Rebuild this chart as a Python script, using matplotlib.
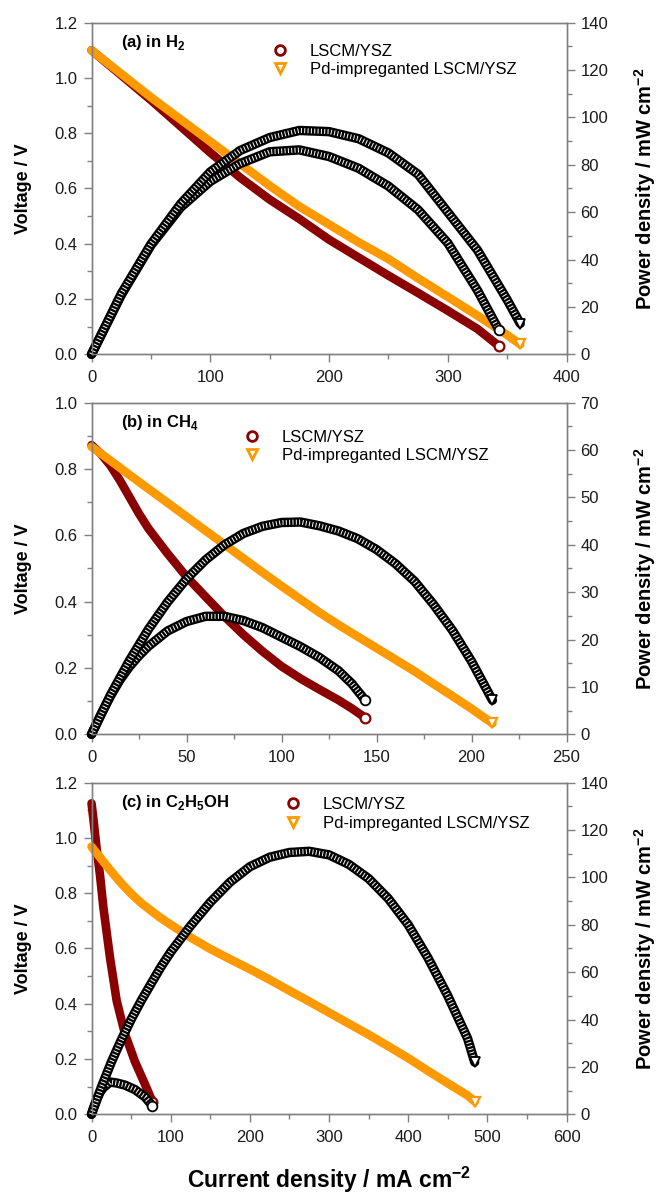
import matplotlib
matplotlib.use("Agg")
import matplotlib.pyplot as plt
from matplotlib.lines import Line2D
from matplotlib.ticker import MultipleLocator, FormatStrFormatter

plt.rcParams['font.family'] = ['Liberation Sans', 'DejaVu Sans']
plt.rcParams['mathtext.fontset'] = 'custom'
plt.rcParams['mathtext.rm'] = 'Liberation Sans'
plt.rcParams['mathtext.bf'] = 'Liberation Sans:bold'
plt.rcParams['lines.scale_dashes'] = False

# (a) in H2  -- current density in mA cm-2, voltage in V, power in mW cm-2
I_a_lscm = [0, 25, 50, 75, 100, 125, 150, 175, 200, 225, 250, 275, 300, 325, 343]
V_a_lscm = [1.10, 1.01, 0.92, 0.825, 0.73, 0.64, 0.56, 0.49, 0.415, 0.35, 0.285, 0.222,
            0.158, 0.092, 0.03]
P_a_lscm = [0, 25, 46, 62, 73, 80.5, 85.5, 86.3, 83.5, 78.5, 71, 61, 47, 27, 10.3]

I_a_pd = [0, 25, 50, 75, 100, 125, 150, 175, 200, 225, 250, 275, 300, 325, 350, 361]
V_a_pd = [1.10, 1.015, 0.93, 0.85, 0.77, 0.69, 0.61, 0.535, 0.47, 0.405, 0.345, 0.275,
          0.208, 0.14, 0.07, 0.036]
P_a_pd = [0, 25.5, 46.5, 63.5, 77, 86, 91.5, 94.5, 94, 91, 85, 76, 60, 44, 23, 13]

# (b) in CH4
I_b_lscm = [0, 5, 10, 15, 20, 25, 30, 40, 50, 60, 70, 80, 90, 100, 110, 120, 130, 137, 144]
V_b_lscm = [0.872, 0.845, 0.81, 0.765, 0.715, 0.665, 0.62, 0.545, 0.475, 0.415, 0.355, 0.30,
            0.25, 0.205, 0.168, 0.135, 0.103, 0.078, 0.05]
P_b_lscm = [0, 4.2, 8.1, 11.5, 14.3, 16.6, 18.6, 21.8, 23.8, 24.9, 24.9, 24.0, 22.5, 20.5,
            18.5, 16.2, 13.4, 10.7, 7.2]

I_b_pd = [0, 10, 20, 30, 40, 50, 60, 70, 80, 90, 100, 110, 120, 130, 140, 150, 160, 170, 180,
          190, 200, 211]
V_b_pd = [0.867, 0.825, 0.782, 0.74, 0.698, 0.656, 0.614, 0.572, 0.53, 0.488, 0.447, 0.407,
          0.367, 0.33, 0.295, 0.26, 0.225, 0.19, 0.152, 0.115, 0.077, 0.033]
P_b_pd = [0, 8.3, 15.6, 22.2, 27.9, 32.8, 36.8, 40, 42.4, 43.9, 44.7, 44.8, 44, 42.9, 41.3,
          39, 36, 32.3, 27.4, 21.9, 15.4, 7.2]

# (c) in C2H5OH
I_c_lscm = [0, 2.3, 6.5, 10.7, 14.9, 23.4, 31.8, 42.3, 54.9, 67.6, 77]
V_c_lscm = [1.125, 1.07, 0.96, 0.865, 0.75, 0.565, 0.41, 0.29, 0.19, 0.108, 0.045]
P_c_lscm = [0, 2.5, 6.2, 9.3, 11.2, 13.6, 13.2, 12.3, 10.4, 7.3, 3.5]

I_c_pd = [0, 12.5, 25, 37.5, 50, 62.5, 75, 87.5, 100, 125, 150, 175, 200, 225, 250, 275, 300,
          325, 350, 375, 400, 425, 450, 475, 484]
V_c_pd = [0.968, 0.923, 0.878, 0.836, 0.798, 0.765, 0.737, 0.71, 0.686, 0.640, 0.598, 0.561,
          0.525, 0.487, 0.447, 0.408, 0.368, 0.328, 0.288, 0.246, 0.203, 0.157, 0.112,
          0.068, 0.046]
P_c_pd = [0, 11.5, 22, 31.3, 40, 47.8, 55, 62.1, 68.5, 79.5, 89.5, 98, 104.5, 108.5, 110.5,
          111, 109.5, 105.5, 99.5, 91, 80, 66, 50, 32, 22]

labels = ['LSCM/YSZ', 'Pd-impreganted LSCM/YSZ']
titles = [r'(a) in H$_\mathbf{2}$', r'(b) in CH$_\mathbf{4}$',
          r'(c) in C$_\mathbf{2}$H$_\mathbf{5}$OH']

RED = '#8b0000'
ORANGE = '#ff9900'
GREY = '#808080'

panels = [
    dict(lscm=(I_a_lscm, V_a_lscm, P_a_lscm), pd=(I_a_pd, V_a_pd, P_a_pd),
         xlim=400, xmaj=100, vlim=1.2, plim=140, pmaj=20, bottom=0.7030, leg=(0.375, 0.937)),
    dict(lscm=(I_b_lscm, V_b_lscm, P_b_lscm), pd=(I_b_pd, V_b_pd, P_b_pd),
         xlim=250, xmaj=50, vlim=1.0, plim=70, pmaj=10, bottom=0.3845, leg=(0.316, 0.919)),
    dict(lscm=(I_c_lscm, V_c_lscm, P_c_lscm), pd=(I_c_pd, V_c_pd, P_c_pd),
         xlim=600, xmaj=100, vlim=1.2, plim=140, pmaj=20, bottom=0.0660, leg=(0.403, 0.956)),
]


def style_axis(a):
    for s in a.spines.values():
        s.set_color(GREY)
        s.set_linewidth(1.0)
    a.tick_params(which='both', direction='out', color=GREY, labelcolor='#1a1a1a',
                  labelsize=12)
    a.tick_params(which='major', length=5.5, width=1.0)
    a.tick_params(which='minor', length=3.5, width=1.0)
    a.tick_params(axis='x', pad=6)
    a.tick_params(axis='y', pad=4.5)


def voltage_band(a, x, y, color, marker):
    a.plot(x, y, color=color, lw=6.2, solid_capstyle='round', solid_joinstyle='round',
           clip_on=False)
    a.plot(x[-1:], y[-1:], marker, mfc='white', mec=color, ms=7, mew=1.6, clip_on=False)


def power_band(a, x, y, marker):
    # dense open markers in the original -> black band with thin white hatching
    a.plot(x, y, color='black', lw=6.8, solid_capstyle='round', solid_joinstyle='round',
           clip_on=False)
    a.plot(x, y, color='white', lw=3.6, dashes=(0.7, 1.7), dash_capstyle='butt',
           clip_on=False)
    a.plot(x[-1:], y[-1:], marker, mfc='white', mec='black', ms=7, mew=1.3, clip_on=False)


fig = plt.figure(figsize=(6.58, 11.93), dpi=100)
left, width, height = 0.1391, 0.7219, 0.2780

for p, title in zip(panels, titles):
    ax = fig.add_axes([left, p['bottom'], width, height])
    i_l, v_l, pw_l = p['lscm']
    i_p, v_p, pw_p = p['pd']

    voltage_band(ax, i_l, v_l, RED, 'o')
    voltage_band(ax, i_p, v_p, ORANGE, 'v')

    ax.set_xlim(0, p['xlim'])
    ax.set_ylim(0, p['vlim'])
    ax.xaxis.set_major_locator(MultipleLocator(p['xmaj']))
    ax.xaxis.set_minor_locator(MultipleLocator(p['xmaj'] / 2))
    ax.yaxis.set_major_locator(MultipleLocator(0.2))
    ax.yaxis.set_minor_locator(MultipleLocator(0.1))
    ax.yaxis.set_major_formatter(FormatStrFormatter('%.1f'))
    style_axis(ax)

    ax.text(0.062, 0.939, title, transform=ax.transAxes, fontsize=12, fontweight='bold',
            ha='left', va='center')

    handles = [Line2D([], [], ls='none', marker='o', mfc='white', mec=RED, mew=2, ms=7),
               Line2D([], [], ls='none', marker='v', mfc='white', mec=ORANGE, mew=2, ms=7)]
    ax.legend(handles, labels, loc='upper left', bbox_to_anchor=p['leg'], frameon=False,
              borderpad=0, borderaxespad=0, handlelength=1.2, handletextpad=1.2,
              labelspacing=0.2, fontsize=12)

    ax2 = ax.twinx()
    power_band(ax2, i_l, pw_l, 'o')
    power_band(ax2, i_p, pw_p, 'v')
    ax2.set_ylim(0, p['plim'])
    ax2.yaxis.set_major_locator(MultipleLocator(p['pmaj']))
    ax2.yaxis.set_minor_locator(MultipleLocator(p['pmaj'] / 2))
    style_axis(ax2)

    yc = p['bottom'] + height / 2
    fig.text(0.035, yc, 'Voltage / V', rotation=90, fontsize=13, fontweight='bold',
             ha='center', va='center')
    fig.text(0.980, yc, r'Power density / mW cm$^{\mathbf{-2}}$', rotation=90,
             fontsize=14.5, fontweight='bold', ha='center', va='center')

fig.text(0.4997, 0.0109, r'Current density / mA cm$^{\mathbf{-2}}$', fontsize=16.5,
         fontweight='bold', ha='center', va='center')

fig.savefig('out.png', dpi=100)
